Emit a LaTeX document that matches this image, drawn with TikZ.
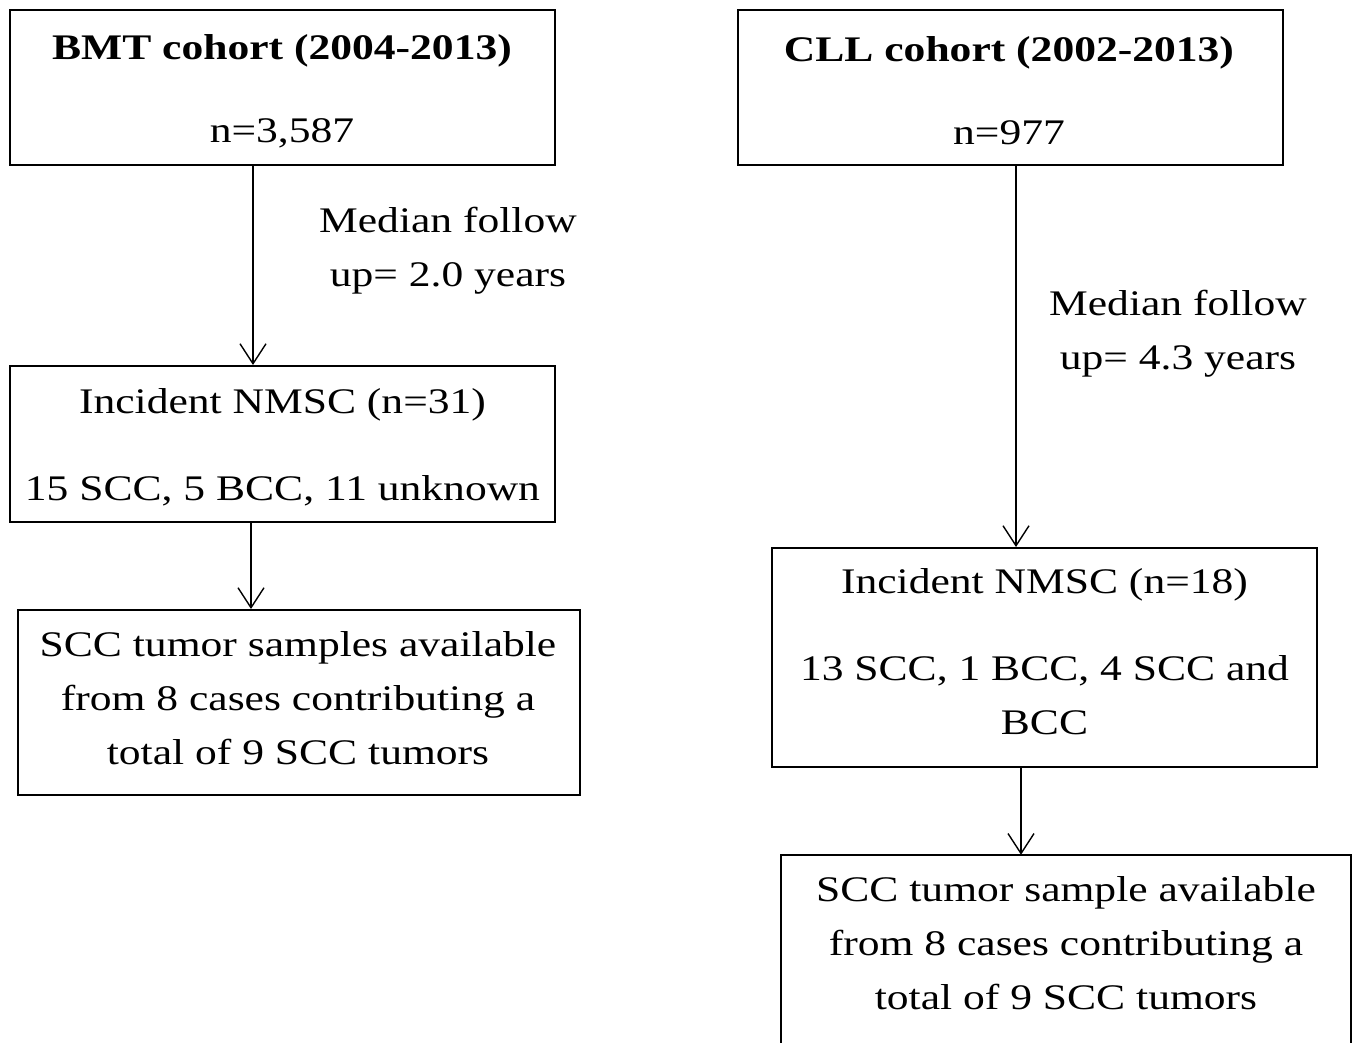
\documentclass[tikz,border=0pt]{standalone}
\usepackage{fontspec}
\setmainfont[FakeStretch=1.21]{Liberation Serif}
\usetikzlibrary{arrows.meta}
\begin{document}
\begin{tikzpicture}[x=1pt,y=-1pt,
  every node/.style={font=\fontsize{36}{54}\selectfont, align=center, inner sep=0pt},
  box/.style={draw, line width=2pt},
  arr/.style={line width=1.4pt, -{Straight Barb[length=20pt,width=26pt,line width=1.4pt]}}]
\fill[white] (0,0) rectangle (1355,1042);
\clip (0,0) rectangle (1355,1042);
\useasboundingbox (0,0) rectangle (1355,1042);
% boxes
\node[box, minimum width=545pt, minimum height=155pt] (A) at (282.5,87.5) {};
\node[box, minimum width=545pt, minimum height=155pt] (B) at (1010.5,87.5) {};
\node[box, minimum width=545pt, minimum height=156pt] (C) at (282.5,444) {};
\node[box, minimum width=545pt, minimum height=219pt] (D) at (1044.5,657.5) {};
\node[box, minimum width=562pt, minimum height=185pt] (E) at (299,702.5) {};
\node[minimum width=570pt, minimum height=176pt] (F) at (1066,943) {};
\draw[line width=2pt] (F.north west) ++(0,220) -- (F.north west) -- (F.north east) -- ++(0,220);
% texts
\node (At) at (282,91) {\textbf{BMT cohort (2004-2013)}\\[29pt]n=3,587};
\node (Bt) at (1009,91) {\textbf{CLL cohort (2002-2013)}\\[29pt]n=977};
\node (Ct) at (282.5,447) {Incident NMSC (n=31)\\[33pt]15 SCC, 5 BCC, 11 unknown};
\node (Dt) at (1044.5,651.5) {Incident NMSC (n=18)\\[33pt]13 SCC, 1 BCC, 4 SCC and\\BCC};
\node (Et) at (298,698) {SCC tumor samples available\\from 8 cases contributing a\\total of 9 SCC tumors};
\node (Ft) at (1066,943) {SCC tumor sample available\\from 8 cases contributing a\\total of 9 SCC tumors};
\node (m1) at (448,251) {Median follow\\up= 2.0 years};
\node (m2) at (1178,333.5) {Median follow\\up= 4.3 years};
% connectors
\draw[arr] ([xshift=-29.5pt]A.south) -- ([xshift=-29.5pt]A.south |- C.north);
\draw[arr] ([xshift=-31.5pt]C.south) -- ([xshift=-31.5pt]C.south |- E.north);
\draw[arr] ([xshift=5.5pt]B.south) -- ([xshift=5.5pt]B.south |- D.north);
\draw[arr] ([xshift=-23.5pt]D.south) -- ([xshift=-23.5pt]D.south |- F.north);
\end{tikzpicture}
\end{document}
